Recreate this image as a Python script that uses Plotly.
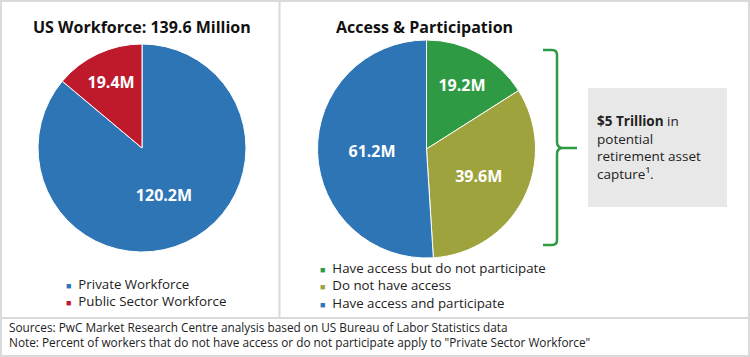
import plotly.graph_objects as go

W, H = 750, 357

# ---- data ----
left_title = "US Workforce: 139.6 Million"
left_labels = ["Private Workforce", "Public Sector Workforce"]
left_values = [120.2, 19.4]
left_text = ["120.2M", "19.4M"]
left_colors = ["#2e75b6", "#be1a2c"]

right_title = "Access & Participation"
right_labels = ["Have access but do not participate", "Do not have access", "Have access and participate"]
right_values = [19.2, 39.6, 61.2]
right_text = ["19.2M", "39.6M", "61.2M"]
right_colors = ["#2f9a44", "#9ea33d", "#2e75b6"]

callout_lines = ["<b>$5 Trillion</b> in", "potential", "retirement asset", "capture¹."]
footer_lines = [
    "Sources: PwC Market Research Centre analysis based on US Bureau of Labor Statistics data",
    'Note: Percent of workers that do not have access or do not participate apply to "Private Sector Workforce"',
]

FONT = "Open Sans"
TXT = "#222222"


def px(x):
    return x / W


def py(y):
    return 1 - y / H


fig = go.Figure()

fig.add_trace(go.Pie(
    labels=left_labels, values=left_values, text=left_text,
    textinfo="text", textposition="inside", insidetextorientation="horizontal",
    textfont=dict(family=FONT, size=16, color="white", weight="bold"),
    marker=dict(colors=left_colors, line=dict(color="white", width=1)),
    sort=False, direction="clockwise", rotation=0,
    domain=dict(x=[px(38), px(246)], y=[py(252), py(44)]),
    hoverinfo="label+value", showlegend=False,
))

fig.add_trace(go.Pie(
    labels=right_labels, values=right_values, text=right_text,
    textinfo="text", textposition="inside", insidetextorientation="horizontal",
    textfont=dict(family=FONT, size=16, color="white", weight="bold"),
    marker=dict(colors=right_colors, line=dict(color="white", width=1)),
    sort=False, direction="clockwise", rotation=0,
    domain=dict(x=[px(316), px(537)], y=[py(258), py(40)]),
    hoverinfo="label+value", showlegend=False,
))

shapes = []
border = "#dadada"
shapes.append(dict(type="rect", xref="paper", yref="paper", x0=px(1), x1=px(749), y0=py(356), y1=py(1),
                   line=dict(color=border, width=2), fillcolor="rgba(0,0,0,0)", layer="below"))
shapes.append(dict(type="line", xref="paper", yref="paper", x0=px(279.5), x1=px(279.5), y0=py(318), y1=py(1),
                   line=dict(color=border, width=2)))
shapes.append(dict(type="line", xref="paper", yref="paper", x0=px(1), x1=px(749), y0=py(318), y1=py(318),
                   line=dict(color=border, width=2)))
shapes.append(dict(type="rect", xref="paper", yref="paper", x0=px(588), x1=px(727), y0=py(207), y1=py(88),
                   line=dict(width=0), fillcolor="#e8e8e8", layer="below"))

# curly brace
pts = [
    ("M", 543, 50), ("L", 552, 50), ("Q", 557, 50, 557, 55), ("L", 557, 142), ("Q", 557, 148, 563, 148),
    ("L", 577, 148), ("M", 563, 148), ("Q", 557, 148, 557, 154), ("L", 557, 240), ("Q", 557, 245, 552, 245),
    ("L", 543, 245),
]
path = ""
for p in pts:
    coords = p[1:]
    segs = [f"{px(coords[i]):.5f},{py(coords[i+1]):.5f}" for i in range(0, len(coords), 2)]
    path += p[0] + " " + " ".join(segs) + " "
shapes.append(dict(type="path", xref="paper", yref="paper", path=path.strip(),
                   line=dict(color="#2f9a44", width=2.5)))


def ann(text, x, y, size, color=TXT, xanchor="left", bold=False):
    return dict(text=f"<b>{text}</b>" if bold else text, x=px(x), y=py(y), xref="paper", yref="paper",
                showarrow=False, xanchor=xanchor, yanchor="middle", align="left",
                font=dict(family=FONT, size=size, color=color))


def legend_block(labels, colors):
    rows = [f"<span style='color:{c};font-size:9px'>■</span>  {lab}" for lab, c in zip(labels, colors)]
    return "<br>".join(rows)


annotations = [
    ann(left_title, 142, 27, 16, "#111111", "center", True),
    ann(right_title, 424, 27, 16, "#111111", "center", True),
    ann("<br>".join(callout_lines), 595, 147, 13.5),
    ann("<br>".join(footer_lines), 7, 334, 11.8),
    ann(legend_block(left_labels, left_colors), 64, 292, 13.3),
    ann(legend_block(right_labels, right_colors), 318, 285, 13.3),
]

fig.update_layout(
    width=W, height=H,
    margin=dict(l=0, r=0, t=0, b=0),
    paper_bgcolor="white", plot_bgcolor="white",
    font=dict(family=FONT),
    shapes=shapes, annotations=annotations,
    showlegend=False,
)

fig.write_html("out.html", config={"displayModeBar": False},
               post_script="document.body.style.margin='0';document.body.style.overflow='hidden';")
